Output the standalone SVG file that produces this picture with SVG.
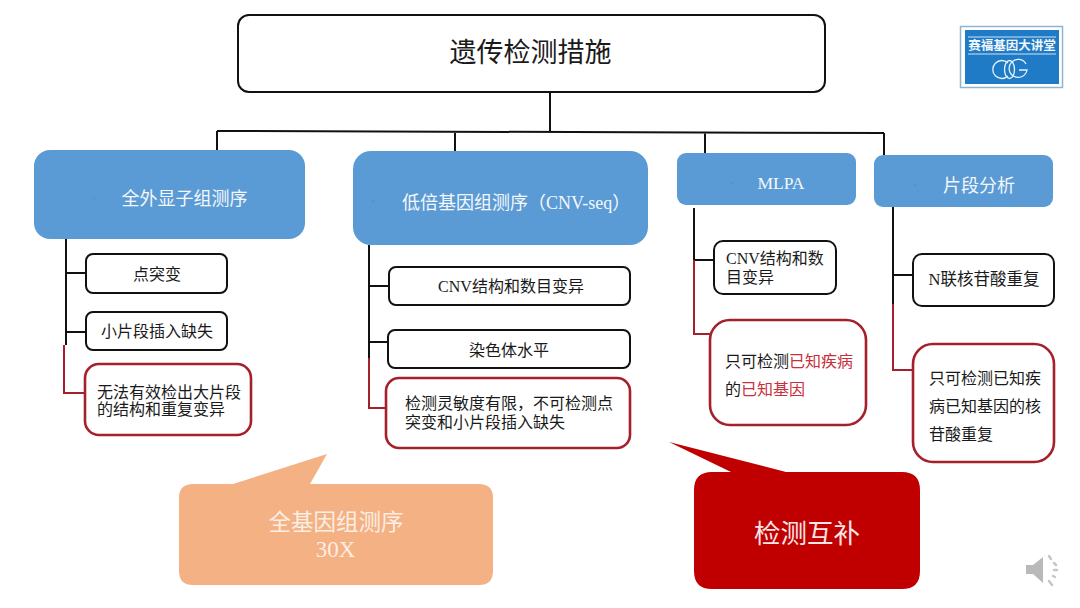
<svg xmlns="http://www.w3.org/2000/svg" width="1080" height="608" viewBox="0 0 1080 608">
<style>
text{font-family:"Liberation Serif","Noto Sans CJK SC",sans-serif;text-anchor:middle;fill:#1a1a1a}
.l{text-anchor:start}
.w{fill:#f4f7fb}
.b{fill:#5b9bd5}
.k{fill:#fff;stroke:#111;stroke-width:2}
.r{fill:#fff;stroke:#a5202b;stroke-width:2.6}
.cb{fill:none;stroke:#111;stroke-width:2}
.cr{fill:none;stroke:#a5202b;stroke-width:2}
.s16{font-size:16px}
.d{fill:#4f94d8}
.hl{fill:#c8303c}
</style>
<rect width="1080" height="608" fill="#fff"/>
<g id="connectors">
<path class="cb" d="M550 92V131M217 131L884 133M217 131V151M455 131V151M705 132V153M884 133V155"/>
<path class="cb" d="M66 239V345M66 273H86M66 332H86"/>
<path class="cr" d="M64 345V393H85"/>
<path class="cb" d="M369 245V358M369 286H389M369 342H388"/>
<path class="cr" d="M369 358V408H386"/>
<path class="cb" d="M694 208V260M694 260H714"/>
<path class="cr" d="M694 260V334H710"/>
<path class="cb" d="M893 207V304M893 275H913"/>
<path class="cr" d="M893 304V370H913"/>
</g>
<g id="title"><rect class="k" x="238" y="15" width="587" height="77" rx="11"/><text x="530.500" y="62" font-size="27">遗传检测措施</text></g>
<g id="logo">
<rect x="960.500" y="26.500" width="102" height="61" fill="#fff" stroke="#8fb4d0" stroke-width="1.500"/>
<rect x="965" y="30" width="94" height="54" fill="#1f7bc6"/>
<path d="M968 37H1056M968 54H1056" stroke="#cfe4f5" stroke-width="1"/>
<text x="1012" y="50" font-size="12.500" font-weight="700" style="fill:#f2f7fb">赛福基因大讲堂</text>
<g fill="none" stroke="#e4f1fb" stroke-width="1.300"><path d="M1008 63A9 9 0 1 0 1008 76"/><ellipse cx="1009.500" cy="69.500" rx="5" ry="9"/><path d="M1026 64A9 9 0 1 0 1027 70H1019"/></g>
</g>
<g id="wes"><rect class="b" x="34" y="150" width="271" height="89" rx="16"/><circle class="d" cx="94" cy="198.500" r="1.300"/><text class="w" x="184.500" y="205" font-size="18">全外显子组测序</text></g>
<g id="wes-1"><rect class="k" x="86" y="254" width="141" height="39" rx="7"/><text class="s16" x="157" y="280">点突变</text></g>
<g id="wes-2"><rect class="k" x="86" y="312" width="141" height="38" rx="7"/><text class="s16" x="157" y="337">小片段插入缺失</text></g>
<g id="wes-3"><rect class="r" x="85" y="364" width="166" height="71" rx="14"/><text class="s16 l" x="97" y="398">无法有效检出大片段</text><text class="s16 l" x="97" y="415">的结构和重复变异</text></g>
<g id="cnvseq"><rect class="b" x="353" y="151" width="295" height="94" rx="18"/><circle class="d" cx="373" cy="201" r="1.300"/><text class="w l" x="402" y="209" font-size="18">低倍基因组测序（CNV-seq）</text></g>
<g id="cnvseq-1"><rect class="k" x="389" y="267" width="241" height="38" rx="7"/><text class="s16" x="511" y="292">CNV结构和数目变异</text></g>
<g id="cnvseq-2"><rect class="k" x="388" y="330" width="242" height="38" rx="7"/><text class="s16" x="509" y="356">染色体水平</text></g>
<g id="cnvseq-3"><rect class="r" x="386" y="378" width="244" height="70" rx="13"/><text class="s16 l" x="405" y="409">检测灵敏度有限，不可检测点</text><text class="s16 l" x="405" y="428">突变和小片段插入缺失</text></g>
<g id="mlpa"><rect class="b" x="677" y="153" width="179" height="52" rx="9"/><circle class="d" cx="732" cy="183" r="1.300"/><text class="w" x="781" y="189" font-size="17.500">MLPA</text></g>
<g id="mlpa-1"><rect class="k" x="714" y="241" width="122" height="53" rx="9"/><text class="s16 l" x="726" y="264">CNV结构和数</text><text class="s16 l" x="726" y="283">目变异</text></g>
<g id="mlpa-2"><rect class="r" x="710" y="320" width="156" height="105" rx="20"/><text class="s16 l" x="725" y="367">只可检测<tspan class="hl">已知疾病</tspan></text><text class="s16 l" x="725" y="395">的<tspan class="hl">已知基因</tspan></text></g>
<g id="frag"><rect class="b" x="874" y="155" width="179" height="52" rx="9"/><circle class="d" cx="915" cy="185" r="1.300"/><text class="w" x="979" y="192" font-size="18">片段分析</text></g>
<g id="frag-1"><rect class="k" x="913" y="254" width="141" height="52" rx="9"/><text x="984" y="285" font-size="16.500">N联核苷酸重复</text></g>
<g id="frag-2"><rect class="r" x="913" y="344" width="141" height="118" rx="20"/><text class="s16 l" x="929" y="384">只可检测已知疾</text><text class="s16 l" x="929" y="412">病已知基因的核</text><text class="s16 l" x="929" y="440">苷酸重复</text></g>
<g id="wgs"><path d="M193 484H233L327 454L310 484H479Q493 484 493 498V571Q493 585 479 585H193Q179 585 179 571V498Q179 484 193 484Z" fill="#f4b183"/><text x="336" y="530" font-size="22.500" style="fill:#fbeee3">全基因组测序</text><text x="335.500" y="557" font-size="23" style="fill:#fbeee3">30X</text></g>
<g id="complement"><path d="M712 472H731L669 442L786 472H902Q920 472 920 490V571Q920 589 902 589H712Q694 589 694 571V490Q694 472 712 472Z" fill="#c00000"/><text x="807" y="543" font-size="26.500" style="fill:#f8e6e6">检测互补</text></g>
<g id="speaker">
<path d="M1026 565H1033L1043 557V583L1033 574H1026Z" fill="#b9b9b9"/>
<g stroke="#c4c8cc" stroke-width="2.500" stroke-linecap="round"><path d="M1049 556L1051 559M1054 563L1056 565M1054 570H1057M1053 576L1055 577M1049 581L1052 585"/></g>
</g>
</svg>
